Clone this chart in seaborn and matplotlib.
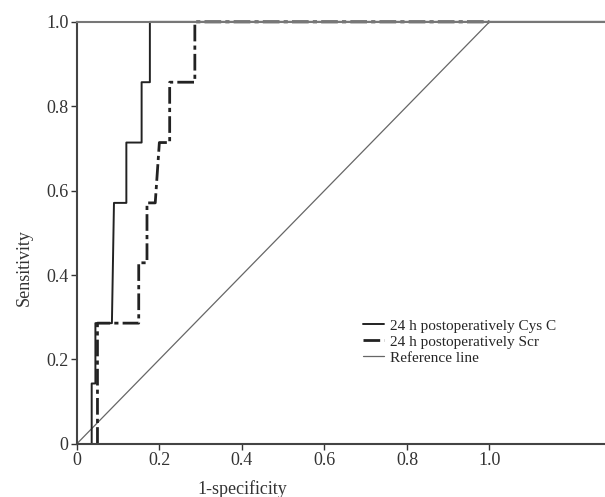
import numpy as np
import pandas as pd
import matplotlib
matplotlib.use("Agg")
import matplotlib.pyplot as plt
import seaborn as sns

sns.set_style("ticks")
plt.rcParams['font.family'] = ['Liberation Serif', 'DejaVu Serif']

# ROC curve points (1-specificity, sensitivity)
cys_fpr = [0.036, 0.036, 0.045, 0.045, 0.085, 0.09, 0.12, 0.12, 0.157, 0.157, 0.177, 0.177, 1.0, 1.28]
cys_tpr = [0.0, 0.143, 0.143, 0.286, 0.286, 0.571, 0.571, 0.714, 0.714, 0.857, 0.857, 1.0, 1.0, 1.0]

scr_fpr = [0.05, 0.05, 0.15, 0.15, 0.17, 0.17, 0.19, 0.2, 0.225, 0.225, 0.286, 0.286, 1.0]
scr_tpr = [0.0, 0.286, 0.286, 0.429, 0.429, 0.571, 0.571, 0.714, 0.714, 0.857, 0.857, 1.0, 1.0]

ref_x = [0.0, 1.0]
ref_y = [0.0, 1.0]

labels = ["24 h postoperatively Cys C", "24 h postoperatively Scr", "Reference line"]
ticks = [0, 0.2, 0.4, 0.6, 0.8, 1.0]
tick_labels = ["0", "0.2", "0.4", "0.6", "0.8", "1.0"]

fig = plt.figure(figsize=(6.05, 4.97), dpi=100)
ax = fig.add_axes([0.127, 0.107, 0.873, 0.849])

sns.lineplot(x=ref_x, y=ref_y, ax=ax, sort=False, estimator=None,
             color="#666666", lw=0.9, label=labels[2])
sns.lineplot(x=scr_fpr, y=scr_tpr, ax=ax, sort=False, estimator=None,
             color="#222222", lw=2.0, label=labels[1])
ax.lines[-1].set_dashes([6, 1.5, 1.5, 1.5])
sns.lineplot(x=cys_fpr, y=cys_tpr, ax=ax, sort=False, estimator=None,
             color="#222222", lw=1.4, label=labels[0])

ax.set_xlim(0, 1.28)
ax.set_ylim(0, 1.0)
ax.set_xticks(ticks)
ax.set_xticklabels(tick_labels)
ax.set_yticks(ticks)
ax.set_yticklabels(tick_labels)
ax.tick_params(direction="out", length=4, width=1, labelsize=13, colors="#333333", pad=2)

for s in ["left", "bottom"]:
    ax.spines[s].set_linewidth(1.5)
    ax.spines[s].set_color("#444444")
ax.spines["top"].set_linewidth(1.5)
ax.spines["top"].set_color("#777777")
ax.spines["right"].set_visible(False)
for ln in ax.lines:
    ln.set_clip_on(False)

ax.set_xlabel("1-specificity", fontsize=13, color="#333333")
ax.set_ylabel("Sensitivity", fontsize=13, color="#333333")
ax.xaxis.set_label_coords(0.3125, -0.086)
ax.yaxis.set_label_coords(-0.083, 0.417)

h, l = ax.get_legend_handles_labels()
order = [2, 1, 0]
ax.legend([h[i] for i in order], [l[i] for i in order], frameon=False,
          fontsize=11, loc="upper left", bbox_to_anchor=(0.53, 0.31),
          handlelength=1.4, handletextpad=0.4, labelspacing=0.15,
          borderaxespad=0)

fig.savefig("out.png", dpi=100)
